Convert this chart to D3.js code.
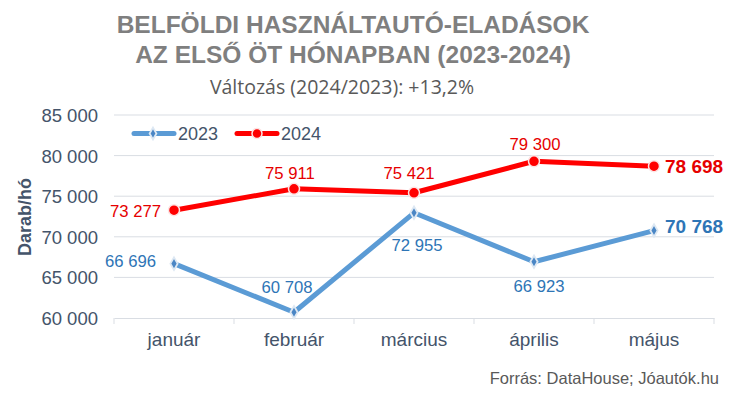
<!DOCTYPE html>
<html><head><meta charset="utf-8">
<script src="https://cdn.jsdelivr.net/npm/d3@7/dist/d3.min.js"></script>
<style>body{margin:0;background:#fff}svg{display:block}</style>
</head><body>
<svg id="c" width="730" height="394"></svg>
<script>
const months = ["január","február","március","április","május"];
const series2023 = [66696, 60708, 72955, 66923, 70768];
const series2024 = [73277, 75911, 75421, 79300, 78698];
const yTicks = [60000, 65000, 70000, 75000, 80000, 85000];
const seriesNames = ["2023","2024"];
const titleLines = ["BELFÖLDI HASZNÁLTAUTÓ-ELADÁSOK","AZ ELSŐ ÖT HÓNAPBAN (2023-2024)"];
const subtitle = "Változás (2024/2023): +13,2%";
const source = "Forrás: DataHouse; Jóautók.hu";
const yTitle = "Darab/hó";

// label placement (layout only): anchor, dx, dy relative to point
const place2023 = [["end",-18,3],["middle",-7,-19],["middle",3,38],["middle",5,30],["start",11,2]];
const place2024 = [["end",-13,7],["middle",-4,-10],["middle",-5,-14],["middle",1,-11],["start",11,7]];

const svg = d3.select("#c");
const font = "Liberation Sans, Arial, sans-serif";
const axisCol = "#44546a";
const gridCol = "#d9dde3";
const fmt = v => d3.format(",")(v).replace(/,/g, " ");

const x = d3.scaleBand().domain(months).range([114, 714]);
const y = d3.scaleLinear().domain([60000, 85000]).range([318, 115]);

// gridlines
svg.append("g").selectAll("line").data(yTicks.slice(1)).join("line")
  .attr("x1", 114).attr("x2", 714).attr("y1", d => y(d)).attr("y2", d => y(d))
  .attr("stroke", gridCol).attr("stroke-width", 1);

// y axis labels
const ya = svg.append("g").attr("transform", "translate(98,0)")
  .call(d3.axisLeft(y).tickValues(yTicks).tickSize(0).tickPadding(0).tickFormat(fmt));
ya.select(".domain").remove();
ya.selectAll("text").attr("font-family", font).attr("font-size", 18.5).attr("fill", axisCol).attr("dy", "0.35em");

// x axis
const xa = svg.append("g").attr("transform", "translate(0,318)")
  .call(d3.axisBottom(x).tickSize(0).tickPadding(15));
xa.select(".domain").attr("stroke", gridCol);
xa.selectAll("text").attr("font-family", font).attr("font-size", 19).attr("fill", axisCol);
svg.append("g").selectAll("line").data(d3.range(months.length + 1)).join("line")
  .attr("x1", i => 114 + i * x.step()).attr("x2", i => 114 + i * x.step())
  .attr("y1", 318).attr("y2", 324).attr("stroke", gridCol);

// y title
svg.append("text").attr("transform", "translate(31,217) rotate(-90)")
  .attr("text-anchor", "middle").attr("font-family", font).attr("font-weight", "bold")
  .attr("font-size", 18).attr("fill", axisCol).text(yTitle);

const cx = m => x(m) + x.bandwidth() / 2;
const line = d3.line().x((d, i) => cx(months[i])).y(d => y(d));

function drawSeries(vals, color, labelColor, marker, place) {
  svg.append("path").datum(vals).attr("d", line).attr("fill", "none")
    .attr("stroke", color).attr("stroke-width", 5).attr("stroke-linejoin", "round");
  const g = svg.append("g");
  vals.forEach((v, i) => {
    const px = cx(months[i]), py = y(v);
    if (marker === "circle") {
      g.append("circle").attr("cx", px).attr("cy", py).attr("r", 5.5)
        .attr("fill", color).attr("stroke", "#fce4e4").attr("stroke-width", 1.5);
    } else {
      g.append("path").attr("d", d3.symbol(d3.symbolDiamond, 45)())
        .attr("transform", `translate(${px},${py})`)
        .attr("fill", "#4a86c5").attr("stroke", "#dde8f3").attr("stroke-width", 1.8);
    }
    const [anchor, dx, dy] = place[i];
    const last = i === vals.length - 1;
    const t = g.append("text").attr("font-family", font).attr("fill", labelColor)
      .attr("x", px + dx).attr("text-anchor", anchor).text(fmt(v));
    if (last) t.attr("y", py + dy).attr("font-size", 19).attr("font-weight", "bold");
    else t.attr("y", py + dy).attr("font-size", 16.7);
  });
}
drawSeries(series2023, "#5b9bd5", "#2e75b6", "diamond", place2023);
drawSeries(series2024, "#ff0000", "#e60000", "circle", place2024);

// legend
const leg = [{name: seriesNames[0], color: "#5b9bd5", m: "diamond", x: 132},
             {name: seriesNames[1], color: "#ff0000", m: "circle", x: 235}];
leg.forEach(l => {
  const ly = 133.5;
  svg.append("line").attr("x1", l.x + 2).attr("x2", l.x + 42).attr("y1", ly).attr("y2", ly)
    .attr("stroke", l.color).attr("stroke-width", 5).attr("stroke-linecap", "round");
  if (l.m === "circle") svg.append("circle").attr("cx", l.x + 22).attr("cy", ly).attr("r", 5)
      .attr("fill", l.color).attr("stroke", "#fce4e4").attr("stroke-width", 1.5);
  else svg.append("path").attr("d", d3.symbol(d3.symbolDiamond, 40)())
      .attr("transform", `translate(${l.x + 21},${ly})`).attr("fill", "#4a86c5").attr("stroke", "#dde8f3").attr("stroke-width", 1.8);
  svg.append("text").attr("x", l.x + 46).attr("y", ly).attr("dy", "0.35em")
    .attr("font-family", font).attr("font-size", 18).attr("fill", axisCol).text(l.name);
});

// titles
titleLines.forEach((t, i) => svg.append("text").attr("x", 353).attr("y", 33 + i * 29.5)
  .attr("text-anchor", "middle").attr("font-family", font).attr("font-weight", "bold")
  .attr("font-size", 24.5).attr("fill", "#7f7f7f").text(t));
svg.append("text").attr("x", 342).attr("y", 94).attr("text-anchor", "middle")
  .attr("font-family", "Open Sans, sans-serif").attr("font-size", 19.5).attr("fill", "#595959").text(subtitle);
svg.append("text").attr("x", 719).attr("y", 384).attr("text-anchor", "end")
  .attr("font-family", font).attr("font-size", 16.5).attr("fill", "#595959").text(source);
</script>
</body></html>
